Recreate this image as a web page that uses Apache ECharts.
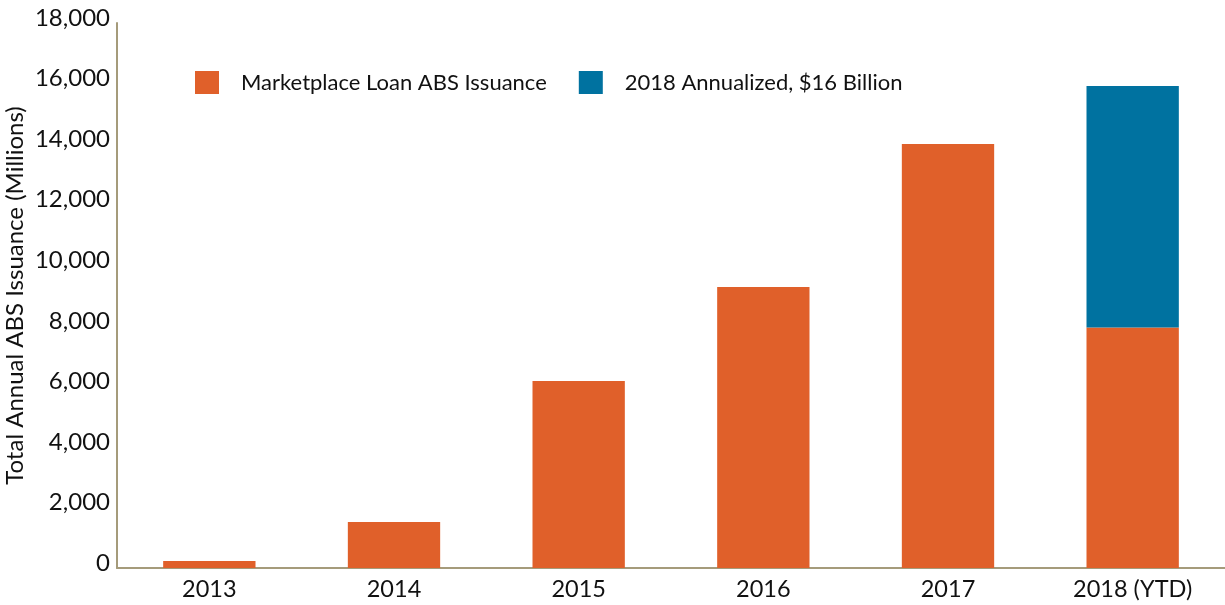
<!DOCTYPE html>
<html>
<head>
<meta charset="utf-8">
<script src="https://cdn.jsdelivr.net/npm/echarts@6/dist/echarts.min.js"></script>
<style>html,body{margin:0;padding:0;background:#fff;}#chart{width:1225px;height:605px;}</style>
</head>
<body>
<div id="chart"></div>
<script>
const categories = ['2013', '2014', '2015', '2016', '2017', '2018 (YTD)'];
const issuance = [230, 1520, 6180, 9280, 14000, 7940];
const annualizedExtra = [null, null, null, null, null, 7980];
const seriesNames = ['Marketplace Loan ABS Issuance', '2018 Annualized, $16 Billion'];
const yTicks = { min: 0, max: 18000, interval: 2000 };
const yTitle = 'Total Annual ABS Issuance (Millions)';

const FONT = 'Lato';
const chart = echarts.init(document.getElementById('chart'));
chart.setOption({
  animation: false,
  textStyle: { fontFamily: FONT },
  legend: {
    left: 190, top: 66,
    icon: 'rect', itemWidth: 24, itemHeight: 23, itemGap: 32,
    textStyle: { fontFamily: FONT, fontSize: 22, color: '#111', padding: [0, 0, 0, 17] },
    data: seriesNames
  },
  grid: { left: 117, right: 0, top: 23, bottom: 37, containLabel: false, outerBoundsMode: 'none' },
  xAxis: {
    type: 'category', data: categories,
    axisLine: { lineStyle: { color: '#a59b7b', width: 2 } },
    axisTick: { show: false },
    axisLabel: { fontFamily: FONT, fontSize: 23.5, color: '#111', margin: 9 }
  },
  yAxis: {
    type: 'value', min: yTicks.min, max: yTicks.max, interval: yTicks.interval,
    name: yTitle, nameLocation: 'middle', nameGap: 90, nameMoveOverlap: false,
    nameTextStyle: { fontFamily: FONT, fontSize: 24, color: '#111' },
    axisLine: { show: true, lineStyle: { color: '#a59b7b', width: 2 } },
    axisTick: { show: false },
    splitLine: { show: false },
    axisLabel: { fontFamily: FONT, fontSize: 24, color: '#111', margin: 7, verticalAlign: 'bottom', padding: [0,0,-7,0],
      formatter: v => v.toLocaleString('en-US') }
  },
  series: [
    { name: seriesNames[0], type: 'bar', stack: 'a', data: issuance, barWidth: '50%', itemStyle: { color: '#e0602a' } },
    { name: seriesNames[1], type: 'bar', stack: 'a', data: annualizedExtra, barWidth: '50%', itemStyle: { color: '#0072a0' } }
  ]
});
</script>
</body>
</html>
